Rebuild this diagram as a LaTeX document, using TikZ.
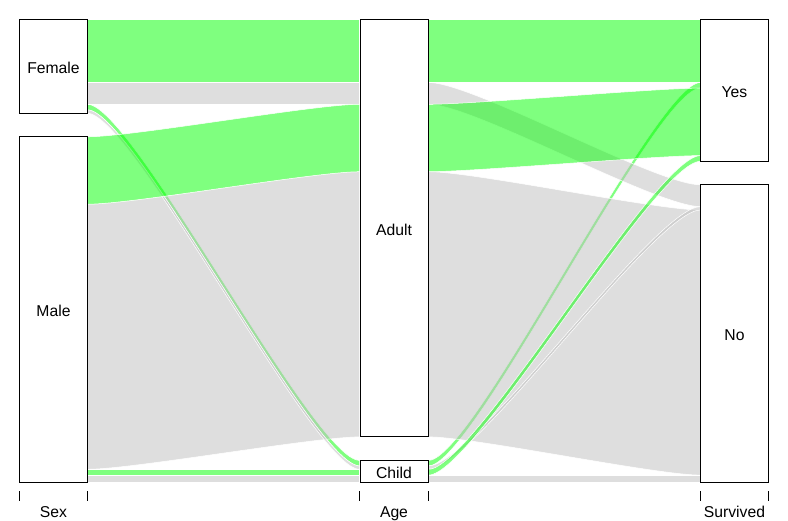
\documentclass[tikz,border=0pt]{standalone}
\usepackage{fontspec}
\setmainfont{Liberation Sans}
\usepackage{tikz}

\definecolor{flowgreen}{RGB}{0,255,0}
\definecolor{flowgray}{RGB}{190,190,190}

\tikzset{
  catbox/.style={draw=black, line width=0.8pt, fill=white, minimum width=68pt, inner sep=0pt, text height=14pt, text depth=0pt},
  greenband/.style={fill=flowgreen, fill opacity=0.5, draw=white, line width=0.5pt},
  grayband/.style={fill=flowgray, fill opacity=0.5, draw=white, line width=0.5pt},
  axistick/.style={black, line width=0.8pt},
  axislabel/.style={anchor=base}
}

% style, x left, top left, bottom left, x right, top right, bottom right
\newcommand{\flowband}[7]{%
  \filldraw[#1] (#2,#3) .. controls (#2+45,#3) and (#5-45,#6) .. (#5,#6)
    -- (#5,#7) .. controls (#5-45,#7) and (#2+45,#4) .. (#2,#4) -- cycle;}

\begin{document}
\begin{tikzpicture}[x=1pt, y=-1pt, font=\fontsize{15.7}{18}\selectfont]
        \useasboundingbox (0,0) rectangle (788,521);

        % Sex -> Age
        \flowband{greenband}{87.5}{104.3}{109.9}{359.5}{460.4}{465.9}
        \flowband{grayband}{87.5}{82.5}{104.3}{359.5}{82.5}{104.3}
        \flowband{grayband}{87.5}{204.2}{469.3}{359.5}{171.7}{436.9}
        \flowband{grayband}{87.5}{109.9}{113.3}{359.5}{465.9}{469.3}
        \flowband{grayband}{87.5}{475.1}{482.1}{359.5}{475.1}{482.1}
        \flowband{greenband}{87.5}{469.3}{475.1}{359.5}{469.3}{475.1}
        \flowband{greenband}{87.5}{136.8}{204.2}{359.5}{104.3}{171.7}
        \flowband{greenband}{87.5}{19.5}{82.5}{359.5}{19.5}{82.5}

        % Age -> Survived
        \flowband{greenband}{428.5}{460.4}{465.9}{700.5}{82.5}{88.1}
        \flowband{grayband}{428.5}{82.5}{104.3}{700.5}{184.8}{206.6}
        \flowband{grayband}{428.5}{171.7}{436.9}{700.5}{210.0}{475.1}
        \flowband{grayband}{428.5}{465.9}{469.3}{700.5}{206.6}{210.0}
        \flowband{grayband}{428.5}{475.1}{482.1}{700.5}{475.1}{482.1}
        \flowband{greenband}{428.5}{469.3}{475.1}{700.5}{155.6}{161.3}
        \flowband{greenband}{428.5}{104.3}{171.7}{700.5}{88.1}{155.6}
        \flowband{greenband}{428.5}{19.5}{82.5}{700.5}{19.5}{82.5}

        \node[catbox, minimum height=93.8pt] (female) at (53.5,66.4) {Female};
        \node[catbox, minimum height=345.3pt] (male) at (53.5,309.45) {Male};
        \node[catbox, minimum height=417.4pt] (adult) at (394,228.2) {Adult};
        \node[catbox, minimum height=21.7pt] (child) at (394,471.25) {Child};
        \node[catbox, minimum height=141.8pt] (yes) at (734.5,90.4) {Yes};
        \node[catbox, minimum height=297.3pt] (no) at (734.5,333.45) {No};

        \draw[axistick] (19.5,491.5) -- (19.5,501.5);
        \draw[axistick] (87.5,491.5) -- (87.5,501.5);
        \draw[axistick] (359.5,491.5) -- (359.5,501.5);
        \draw[axistick] (428.5,491.5) -- (428.5,501.5);
        \draw[axistick] (700.5,491.5) -- (700.5,501.5);
        \draw[axistick] (768.5,491.5) -- (768.5,501.5);

        \node[axislabel] (sexlabel) at (53.5,517.5) {Sex};
        \node[axislabel] (agelabel) at (394,517.5) {Age};
        \node[axislabel] (survivedlabel) at (734.5,517.5) {Survived};
    \end{tikzpicture}
\end{document}
